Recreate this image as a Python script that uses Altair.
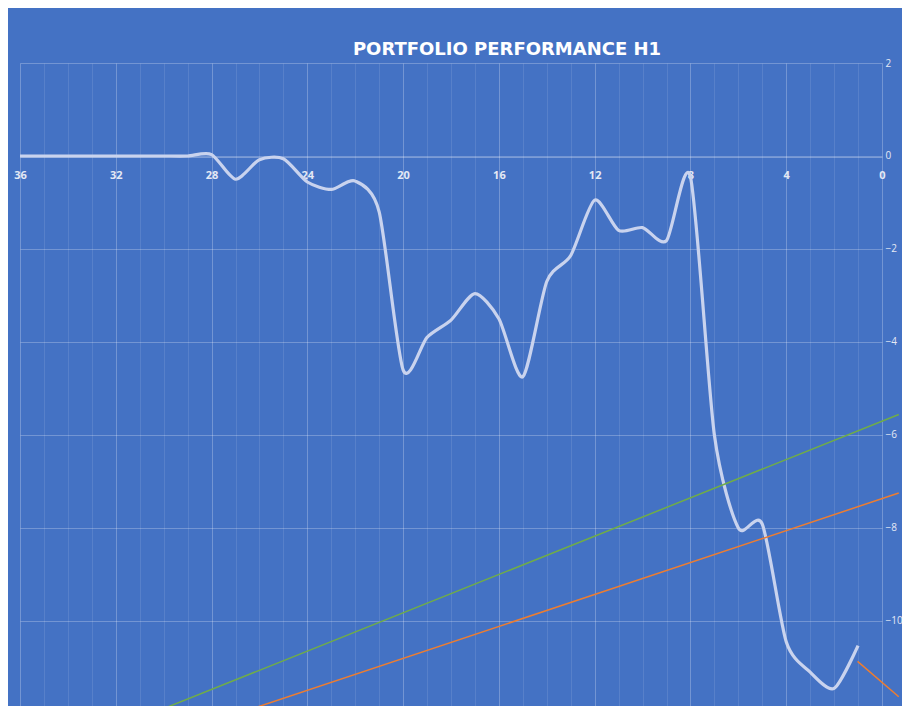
import altair as alt
import pandas as pd

# ---- data ----
x_vals = list(range(36, 0, -1))
perf = [0, 0, 0, 0, 0, 0, 0, 0,
        0.03, -0.50, -0.08, -0.06, -0.56, -0.72, -0.54, -1.2,
        -4.6, -3.9, -3.53, -2.96, -3.5, -4.75, -2.7, -2.14,
        -0.95, -1.6, -1.54, -1.82, -0.45, -6.0, -8.0, -7.92,
        -10.45, -11.1, -11.45, -10.53]

green_x = [30.36, -0.70]
green_y = [-11.96, -5.56]
orange_x = [26.72, -0.70]
orange_y = [-11.96, -7.25]
orange2_x = [1.02, -0.70]
orange2_y = [-10.87, -11.63]

x_ticks = list(range(0, 37))
y_ticks = [2, 0, -2, -4, -6, -8, -10]

BG = "#4472C4"
FONT = "Open Sans"

perf_df = pd.DataFrame({"x": x_vals, "y": perf})
green_df = pd.DataFrame({"x": green_x, "y": green_y})
orange_df = pd.DataFrame({"x": orange_x, "y": orange_y})
orange2_df = pd.DataFrame({"x": orange2_x, "y": orange2_y})

xscale = alt.Scale(domain=[0, 36], reverse=True, nice=False, zero=False)
yscale = alt.Scale(domain=[-11.83, 2], nice=False, zero=False)

x_axis = alt.Axis(
    values=x_ticks,
    labelExpr="datum.value % 4 === 0 ? datum.label : ''",
    orient="bottom",
    offset=-549,
    ticks=False,
    domain=True,
    domainColor="white",
    domainOpacity=0.3,
    grid=True,
    gridColor="white",
    gridOpacity=alt.condition("datum.value % 4 === 0", alt.value(0.25), alt.value(0.1)),
    labelColor="#e4e9f5",
    labelFont=FONT,
    labelFontSize=11,
    labelFontWeight="bold",
    labelPadding=12,
    labelOverlap=False,
    labelFlush=False,
    title=None,
)

y_axis = alt.Axis(
    values=y_ticks,
    orient="right",
    ticks=False,
    domain=False,
    grid=True,
    gridColor="white",
    gridOpacity=0.25,
    labelColor="#e4e9f5",
    labelFont=FONT,
    labelFontSize=10,
    labelPadding=3,
    title=None,
)


def layer_line(df, color, width, interp, tension=None):
    kw = dict(interpolate=interp, color=color, strokeWidth=width, clip=False)
    if tension is not None:
        kw["tension"] = tension
    return alt.Chart(df).mark_line(**kw).encode(
        x=alt.X("x:Q", scale=xscale, axis=x_axis),
        y=alt.Y("y:Q", scale=yscale, axis=y_axis),
    )


chart = alt.layer(
    layer_line(perf_df, "#c9d3ee", 3.2, "cardinal", 0.25),
    layer_line(green_df, "#70AD47", 1.5, "linear"),
    layer_line(orange_df, "#ED7D31", 1.5, "linear"),
    layer_line(orange2_df, "#ED7D31", 1.5, "linear"),
).properties(
    width=862,
    height=643,
    autosize=alt.AutoSizeParams(type="none"),
    padding={"left": 12, "top": 55, "right": 20, "bottom": 0},
    title=alt.TitleParams(
        "PORTFOLIO PERFORMANCE H1",
        font="DejaVu Sans",
        fontSize=18,
        fontWeight="bold",
        color="white",
        anchor="middle",
        dx=56,
        offset=-1,
    ),
).configure(
    background=BG,
).configure_view(
    stroke=None,
)

chart.save("out.html", embed_options={"renderer": "svg", "actions": False})
